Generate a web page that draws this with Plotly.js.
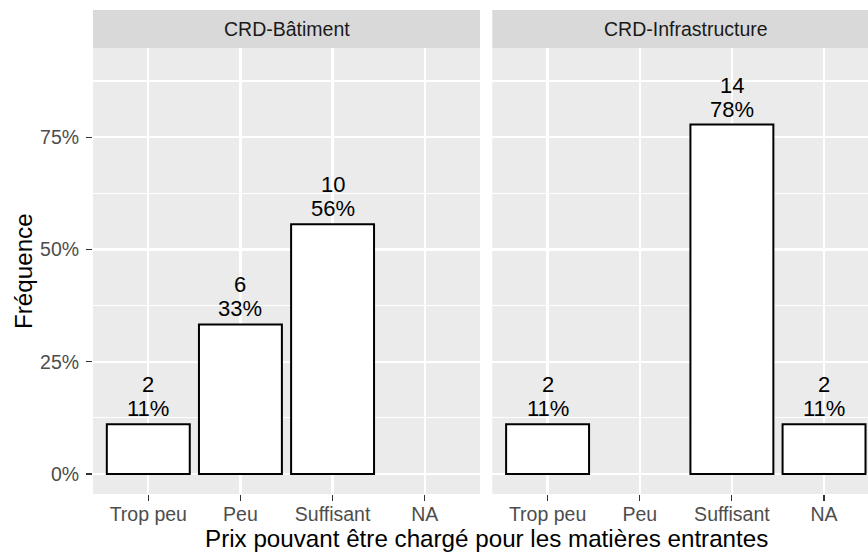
<!DOCTYPE html>
<html><head><meta charset="utf-8">
<script src="https://cdn.plot.ly/plotly-3.0.1.min.js"></script>
<style>html,body{margin:0;padding:0;background:#fff;}#chart{width:868px;height:552px;}</style>
</head><body><div id="chart"></div>
<script>
const categories = ['Trop peu', 'Peu', 'Suffisant', 'NA'];
const panelNames = ['CRD-Bâtiment', 'CRD-Infrastructure'];
const batCounts = [2, 6, 10, null];
const batShares = [0.111, 0.333, 0.556, null];
const batPctLabels = ['11%', '33%', '56%', null];
const infCounts = [2, null, 14, 2];
const infShares = [0.111, null, 0.778, 0.111];
const infPctLabels = ['11%', null, '78%', '11%'];
const yTickVals = [0, 0.25, 0.5, 0.75];
const yTickText = ['0%', '25%', '50%', '75%'];
const yMinorVals = [0.125, 0.375, 0.625, 0.875];
const xTitle = 'Prix pouvant être chargé pour les matières entrantes';
const yTitle = 'Fréquence';

const FONT = 'Liberation Sans, Arial, sans-serif';
const TICK_SIZE = 19.5, LABEL_SIZE = 22, TITLE_SIZE = 24.2;

function barTrace(shares, xa) {
  return {
    type: 'bar', x: categories, y: shares, xaxis: xa, yaxis: 'y',
    width: 0.9, marker: {color: '#FFFFFF', line: {color: '#000000', width: 2}},
    hoverinfo: 'skip', showlegend: false
  };
}

const data = [barTrace(batShares, 'x'), barTrace(infShares, 'x2')];

const annotations = [];
function addLabels(counts, shares, pcts, xref) {
  categories.forEach((c, i) => {
    if (shares[i] == null) return;
    annotations.push({xref: xref, yref: 'y', x: c, y: shares[i], yanchor: 'bottom', yshift: 1,
      text: pcts[i], showarrow: false, font: {family: FONT, size: LABEL_SIZE, color: '#000000'}});
    annotations.push({xref: xref, yref: 'y', x: c, y: shares[i], yanchor: 'bottom', yshift: 25,
      text: String(counts[i]), showarrow: false, font: {family: FONT, size: LABEL_SIZE, color: '#000000'}});
  });
}
addLabels(batCounts, batShares, batPctLabels, 'x');
addLabels(infCounts, infShares, infPctLabels, 'x2');

const plotH = 552 - 48 - 58;
const stripTop = 1 + 38 / plotH;
const stripMid = 1 + 19 / plotH;
panelNames.forEach((p, i) => {
  annotations.push({xref: i === 0 ? 'x' : 'x2', yref: 'paper', x: 1.5, y: stripMid, yanchor: 'middle',
    text: p, showarrow: false, font: {family: FONT, size: TICK_SIZE, color: '#1A1A1A'}});
});
annotations.push({xref: 'paper', yref: 'paper', x: (486.5 - 93) / 775, y: -0.099, xanchor: 'center', yanchor: 'middle',
  borderpad: 0, borderwidth: 0,
  text: xTitle, showarrow: false, font: {family: FONT, size: TITLE_SIZE, color: '#000000'}});
annotations.push({xref: 'paper', yref: 'paper', x: (23 - 93) / 775, y: 0.5, xanchor: 'center', yanchor: 'middle',
  textangle: -90, text: yTitle, showarrow: false, font: {family: FONT, size: TITLE_SIZE, color: '#000000'}});

const shapes = [
  {type: 'rect', xref: 'x domain', yref: 'paper', x0: 0, x1: 1, y0: 1, y1: stripTop, fillcolor: '#D9D9D9', line: {width: 0}, layer: 'below'},
  {type: 'rect', xref: 'x2 domain', yref: 'paper', x0: 0, x1: 1, y0: 1, y1: stripTop, fillcolor: '#D9D9D9', line: {width: 0}, layer: 'below'}
];

function xAxis(domain, range) {
  return {
    domain: domain, anchor: 'y', type: 'category', categoryorder: 'array', categoryarray: categories,
    range: range, showgrid: true, gridcolor: '#FFFFFF', gridwidth: 2.2, zeroline: false, showline: false,
    ticks: 'outside', ticklen: 6, tickwidth: 1.1, tickcolor: '#333333', ticklabelstandoff: -3,
    tickfont: {family: FONT, size: TICK_SIZE, color: '#4D4D4D'}, fixedrange: true
  };
}

const layout = {
  width: 868, height: 552,
  margin: {l: 93, r: 0, t: 48, b: 58, pad: 0},
  paper_bgcolor: '#FFFFFF', plot_bgcolor: '#EBEBEB',
  font: {family: FONT},
  showlegend: false, hovermode: false, bargap: 0,
  xaxis: xAxis([0, 387 / 775], [-0.6, 3.6]),
  xaxis2: xAxis([(492.3 - 93) / 775, 1], [-0.6, 3.477]),
  yaxis: {
    domain: [0, 1], anchor: 'x', range: [-0.0445, 0.9484],
    tickmode: 'array', tickvals: yTickVals, ticktext: yTickText,
    showgrid: true, gridcolor: '#FFFFFF', gridwidth: 2.2, zeroline: false, showline: false,
    minor: {tickmode: 'array', tickvals: yMinorVals, showgrid: true, gridcolor: '#FFFFFF', gridwidth: 1.1, ticks: ''},
    ticks: 'outside', ticklen: 6, tickwidth: 1.1, tickcolor: '#333333', ticklabelstandoff: 3,
    tickfont: {family: FONT, size: TICK_SIZE, color: '#4D4D4D'}, fixedrange: true
  },
  annotations: annotations,
  shapes: shapes
};

Plotly.newPlot('chart', data, layout, {displayModeBar: false, staticPlot: true});
</script>
</body></html>
